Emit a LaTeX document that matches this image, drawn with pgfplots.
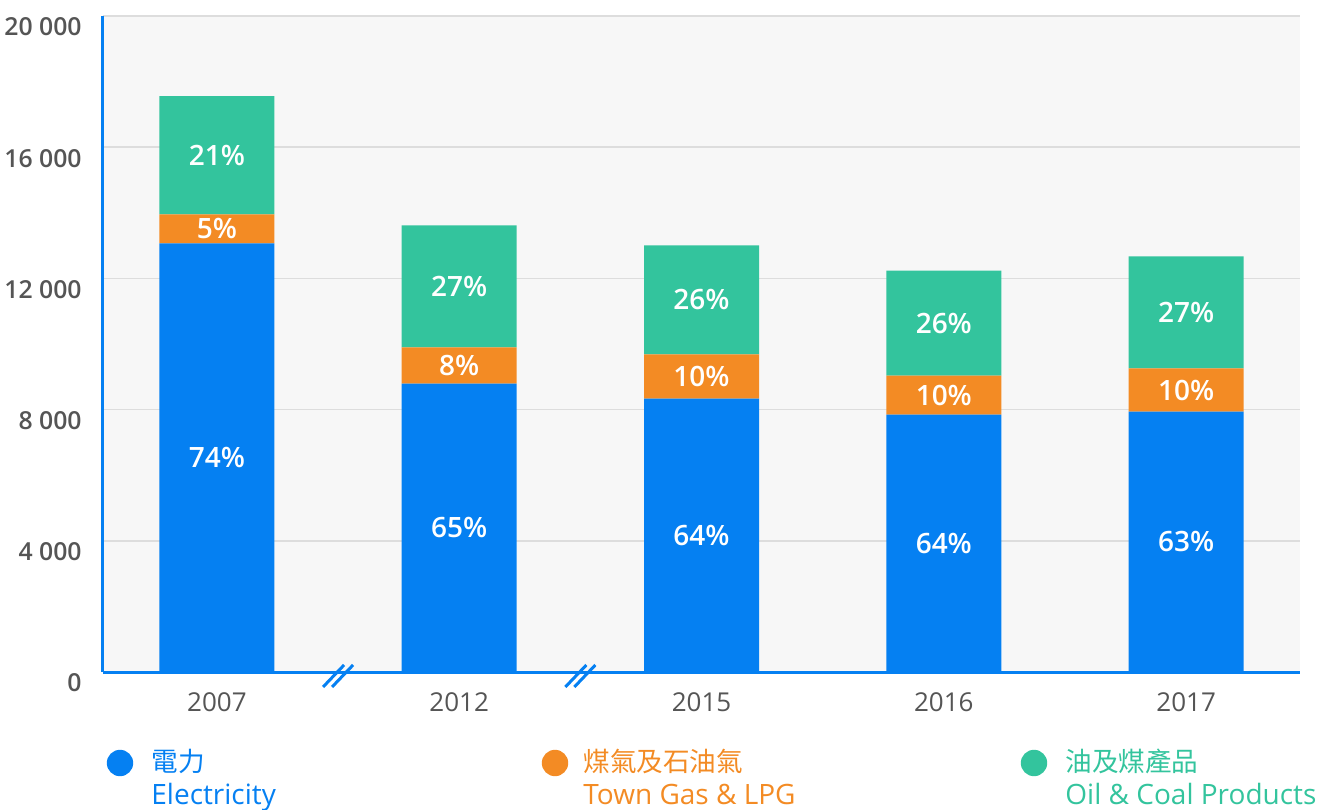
\documentclass[border=0pt]{standalone}
\usepackage{pgfplots}
\pgfplotsset{compat=1.18}
\usepackage{pgfplotstable}
\usepackage{fontspec}
\setmainfont{Open Sans}
\newfontfamily\semib{Open Sans Semibold}
\newfontfamily\cjk{Noto Sans CJK TC}
\definecolor{elec}{HTML}{0580F2}
\definecolor{gas}{HTML}{F38B24}
\definecolor{oil}{HTML}{33C49D}
\definecolor{bgc}{HTML}{F7F7F7}
\definecolor{gridc}{HTML}{DDDDDD}
\definecolor{txt}{HTML}{555555}

% energy use by fuel type
\pgfplotstableread{
x elec gas oil
0 13070 885 3600
1 8795 1100 3725
2 8335 1345 3330
3 7845 1190 3205
4 7940 1315 3420
}\energy

% share labels, placed at the middle of each segment
\pgfplotstableread{
x y p
0 6535 74
0 13512 5
0 15755 21
1 4397 65
1 9345 8
1 11757 27
2 4168 64
2 9007 10
2 11345 26
3 3922 64
3 8440 10
3 10637 26
4 3970 63
4 8597 10
4 10965 27
}\labels

\pgfplotsset{
    base/.style={width=598.5bp, height=328bp, scale only axis,
        xmin=-0.47, xmax=4.47, ymin=0, ymax=20000},
}

\begin{document}
\begin{tikzpicture}
\useasboundingbox (-51.5bp,-69bp) rectangle (607bp,336bp);
\begin{axis}[
    base,
    clip=false,
    ybar stacked,
    bar width=57.5bp,
    axis background/.style={fill=bgc},
    axis x line*=bottom,
    axis y line*=left,
    axis line style={elec, line width=1.5bp},
    major tick length=0,
    scaled y ticks=false,
    xtick={0,1,2,3,4},
    xticklabels={2007,2012,2015,2016,2017},
    ytick={0,4000,8000,12000,16000,20000},
    yticklabels={0,4 000,8 000,12 000,16 000,20 000},
    ymajorgrids,
    grid style={gridc, line width=0.75bp},
    xticklabel style={anchor=base, yshift=-19.75bp, text=txt,
        font=\fontsize{13bp}{15bp}\selectfont},
    yticklabel style={anchor=east, inner sep=0pt, xshift=-10.5bp, yshift=-5.5bp,
        text=txt, font=\semib\fontsize{12.4bp}{14bp}\selectfont},
]
\addplot[fill=elec, draw=none] table[x=x, y=elec]{\energy};
\addplot[fill=gas, draw=none] table[x=x, y=gas]{\energy};
\addplot[fill=oil, draw=none] table[x=x, y=oil]{\energy};

% axis break marks
\draw[elec, line width=1.5bp] ([xshift=-7.5bp,yshift=-7.5bp]axis cs:0.5,0) -- ([xshift=3bp,yshift=3.5bp]axis cs:0.5,0);
\draw[elec, line width=1.5bp] ([xshift=-3bp,yshift=-7.5bp]axis cs:0.5,0) -- ([xshift=7.5bp,yshift=3.5bp]axis cs:0.5,0);
\draw[elec, line width=1.5bp] ([xshift=-7.5bp,yshift=-7.5bp]axis cs:1.5,0) -- ([xshift=3bp,yshift=3.5bp]axis cs:1.5,0);
\draw[elec, line width=1.5bp] ([xshift=-3bp,yshift=-7.5bp]axis cs:1.5,0) -- ([xshift=7.5bp,yshift=3.5bp]axis cs:1.5,0);
\end{axis}

\begin{axis}[base, hide axis, clip=false]
\addplot[draw=none, mark=none,
    nodes near coords={\pgfplotspointmeta\%},
    point meta=explicit symbolic,
    every node near coord/.append style={anchor=center, text=white,
        font=\semib\fontsize{14bp}{16bp}\selectfont}]
    table[x=x, y=y, meta=p]{\labels};
\end{axis}

% legend
\fill[elec] (8.5bp,-45.5bp) circle (6.6bp);
\node[anchor=base west, inner sep=0pt, text=elec, font=\cjk\fontsize{13.3bp}{15bp}\selectfont] at (24bp,-49.5bp) {電力};
\node[anchor=base west, inner sep=0pt, text=elec, font=\fontsize{14bp}{16bp}\selectfont] at (24bp,-66bp) {Electricity};
\fill[gas] (226bp,-45.5bp) circle (6.6bp);
\node[anchor=base west, inner sep=0pt, text=gas, font=\cjk\fontsize{13.3bp}{15bp}\selectfont] at (240bp,-49.5bp) {煤氣及石油氣};
\node[anchor=base west, inner sep=0pt, text=gas, font=\fontsize{14bp}{16bp}\selectfont] at (240bp,-66bp) {Town Gas \& LPG};
\fill[oil] (465.5bp,-45.5bp) circle (6.6bp);
\node[anchor=base west, inner sep=0pt, text=oil, font=\cjk\fontsize{13.3bp}{15bp}\selectfont] at (481bp,-49.5bp) {油及煤產品};
\node[anchor=base west, inner sep=0pt, text=oil, font=\fontsize{14bp}{16bp}\selectfont] at (481bp,-66bp) {Oil \& Coal Products};
\end{tikzpicture}
\end{document}
